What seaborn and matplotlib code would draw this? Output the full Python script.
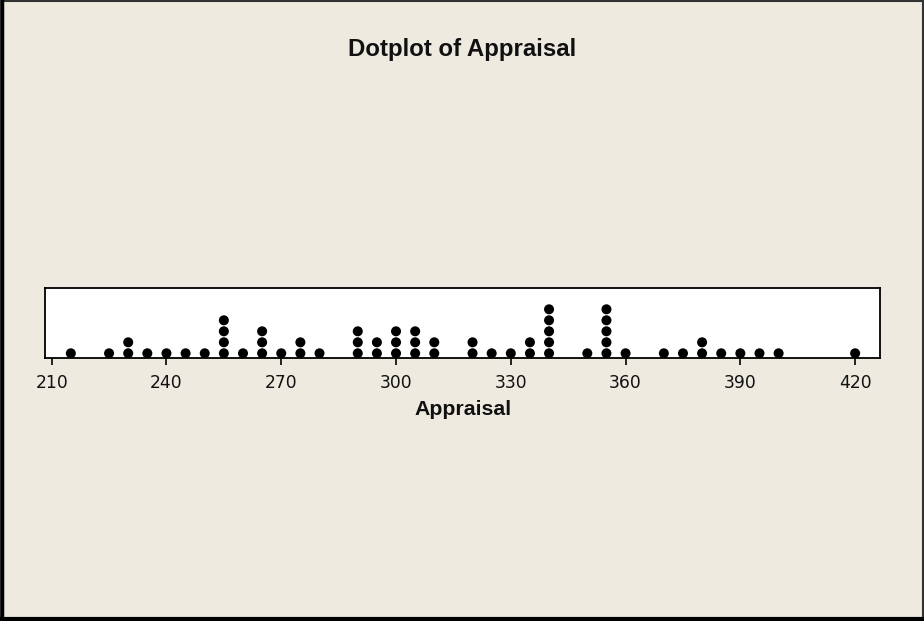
import matplotlib
matplotlib.use("Agg")
import matplotlib.pyplot as plt
import seaborn as sns
import pandas as pd
from matplotlib.patches import Rectangle

# Data read from the dotplot: each appraisal value and how many dots it has
values = [215, 225, 230, 235, 240, 245, 250, 255, 260, 265, 270, 275, 280,
          290, 295, 300, 305, 310, 320, 325, 330, 335, 340, 350, 355, 360,
          370, 375, 380, 385, 390, 395, 400, 420]
counts = [1, 1, 2, 1, 1, 1, 1, 4, 1, 3, 1, 2, 1,
          3, 2, 3, 3, 2, 2, 1, 1, 2, 5, 1, 5, 1,
          1, 1, 2, 1, 1, 1, 1, 1]
xticks = [210, 240, 270, 300, 330, 360, 390, 420]
title = "Dotplot of Appraisal"
xlabel = "Appraisal"

rows = []
for v, c in zip(values, counts):
    for k in range(c):
        rows.append({"Appraisal": v, "level": k})
df = pd.DataFrame(rows)

sns.set_style("white")
plt.rcParams['font.family'] = ['DejaVu Sans']

bg = "#EEEAE0"
W, H = 924, 621
fig = plt.figure(figsize=(W / 100, H / 100), dpi=100, facecolor=bg)

left, right, top, bottom = 45, 880, 288.3, 358.3
ax = fig.add_axes([left / W, 1 - bottom / H, (right - left) / W, (bottom - top) / H])
ax.set_facecolor("white")

sns.scatterplot(data=df, x="Appraisal", y="level", ax=ax, color="black",
                s=52, edgecolor="none", linewidth=0, legend=False)

ax.set_xlim(208.25, 426.5)
ax.set_ylim(-0.4545, 5.909)
ax.set_xticks(xticks)
ax.set_xticklabels([str(t) for t in xticks], fontsize=12.3, color="#111111")
ax.set_yticks([])
ax.tick_params(axis="x", bottom=True, direction="out", length=5, width=1.2,
               color="black", pad=6)
ax.set_xlabel("")
ax.set_ylabel("")
for sp in ax.spines.values():
    sp.set_visible(True)
    sp.set_color("black")
    sp.set_linewidth(1.3)

fig.text(462 / W, 1 - 56 / H, title, ha="center", va="baseline",
         fontsize=17.3, fontweight="bold", family=["Liberation Sans"], color="#111111")
fig.text(463 / W, 1 - 415 / H, xlabel, ha="center", va="baseline",
         fontsize=15.3, fontweight="bold", family=["Liberation Sans"], color="#111111")

# figure frame
fig.patches.append(Rectangle((0.5 / W, 1.5 / H), (W - 2) / W, (H - 2.5) / H,
                             transform=fig.transFigure, fill=False,
                             edgecolor="#333333", linewidth=1.5))
fig.add_artist(plt.Line2D([1.5 / W, 1.5 / W], [0, 1], transform=fig.transFigure,
                          color="black", linewidth=2.5))
fig.add_artist(plt.Line2D([0, 1], [2 / H, 2 / H], transform=fig.transFigure,
                          color="black", linewidth=3))

fig.savefig("out.png", dpi=100, facecolor=bg)
